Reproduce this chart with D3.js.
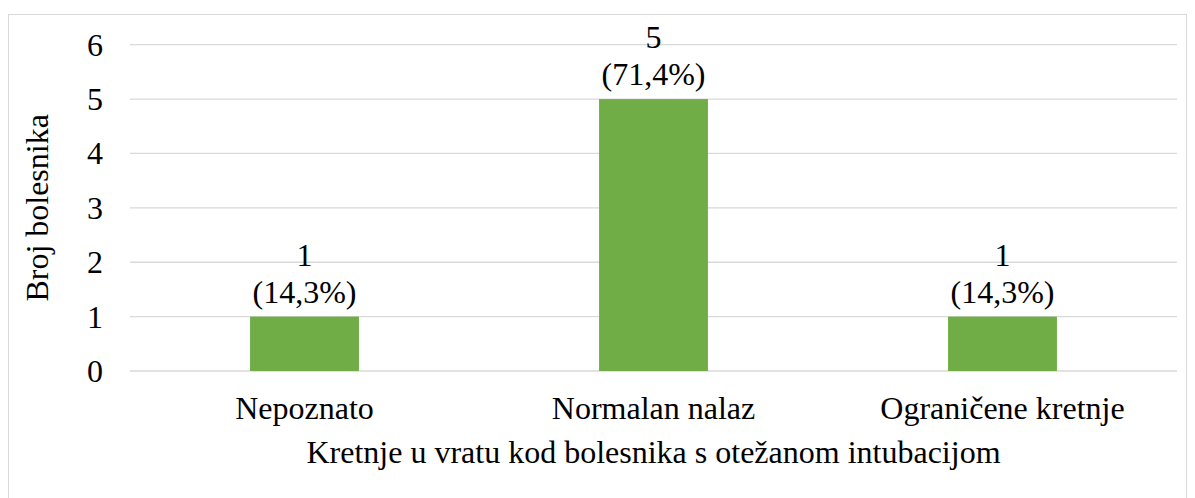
<!DOCTYPE html>
<html>
<head>
<meta charset="utf-8">
<title>Kretnje u vratu</title>
<script src="https://cdn.jsdelivr.net/npm/d3@7"></script>
</head>
<body style="margin:0">
<script>
// data
var categories = ["Nepoznato", "Normalan nalaz", "Ograničene kretnje"];
var counts = [1, 5, 1];
var percents = ["(14,3%)", "(71,4%)", "(14,3%)"];
var yTicks = [0, 1, 2, 3, 4, 5, 6];

var W = 1195, H = 498;
var fontSize = "32px";
var fontFam = "'Liberation Serif'";

var svg = d3.select("body").append("svg")
  .attr("width", W)
  .attr("height", H);

// outer chart border
svg.append("rect")
  .attr("x", 8.5).attr("y", 14.5)
  .attr("width", 1178).attr("height", 500)
  .attr("fill", "none")
  .attr("stroke", "#d9d9d9")
  .attr("stroke-width", 1);

var x = d3.scaleBand()
  .domain(categories)
  .range([130, 1177])
  .paddingInner(0.688)
  .paddingOuter(0.344);

var y = d3.scaleLinear()
  .domain([0, 6])
  .range([371, 44.7]);

function styleText(sel) {
  sel.style("font-family", fontFam)
    .style("font-size", fontSize)
    .attr("fill", "#000");
}

// gridlines
svg.append("g")
  .selectAll("line")
  .data(yTicks)
  .enter().append("line")
  .attr("x1", 130).attr("x2", 1177)
  .attr("y1", function(d) { return y(d); })
  .attr("y2", function(d) { return y(d); })
  .attr("stroke", "#d9d9d9")
  .attr("stroke-width", 1.3);

// bars
svg.selectAll("rect.bar")
  .data(counts)
  .enter().append("rect")
  .attr("class", "bar")
  .attr("x", function(d, i) { return x(categories[i]); })
  .attr("width", x.bandwidth())
  .attr("y", function(d) { return y(d); })
  .attr("height", function(d) { return y(0) - y(d); })
  .attr("fill", "#70ad47");

// y tick labels
svg.append("g").selectAll("text")
  .data(yTicks)
  .enter().append("text")
  .attr("x", 103)
  .attr("y", function(d) { return y(d) + 11; })
  .attr("text-anchor", "end")
  .call(styleText)
  .text(function(d) { return d; });

// data labels
var lab = svg.selectAll("g.lab")
  .data(counts)
  .enter().append("g")
  .attr("class", "lab")
  .attr("transform", function(d, i) {
    return "translate(" + (x(categories[i]) + x.bandwidth() / 2) + "," + y(d) + ")";
  });
lab.append("text")
  .attr("text-anchor", "middle")
  .attr("y", -51)
  .call(styleText)
  .text(function(d) { return d; });
lab.append("text")
  .attr("text-anchor", "middle")
  .attr("y", -14)
  .call(styleText)
  .text(function(d, i) { return percents[i]; });

// x category labels
svg.append("g").selectAll("text")
  .data(categories)
  .enter().append("text")
  .attr("x", function(d) { return x(d) + x.bandwidth() / 2; })
  .attr("y", 419)
  .attr("text-anchor", "middle")
  .call(styleText)
  .text(function(d) { return d; });

// axis titles
svg.append("text")
  .attr("x", (130 + 1177) / 2)
  .attr("y", 463)
  .attr("text-anchor", "middle")
  .call(styleText)
  .text("Kretnje u vratu kod bolesnika s otežanom intubacijom");

svg.append("text")
  .attr("transform", "translate(48," + ((y(0) + y(6)) / 2) + ") rotate(-90)")
  .attr("text-anchor", "middle")
  .call(styleText)
  .text("Broj bolesnika");
</script>
</body>
</html>
